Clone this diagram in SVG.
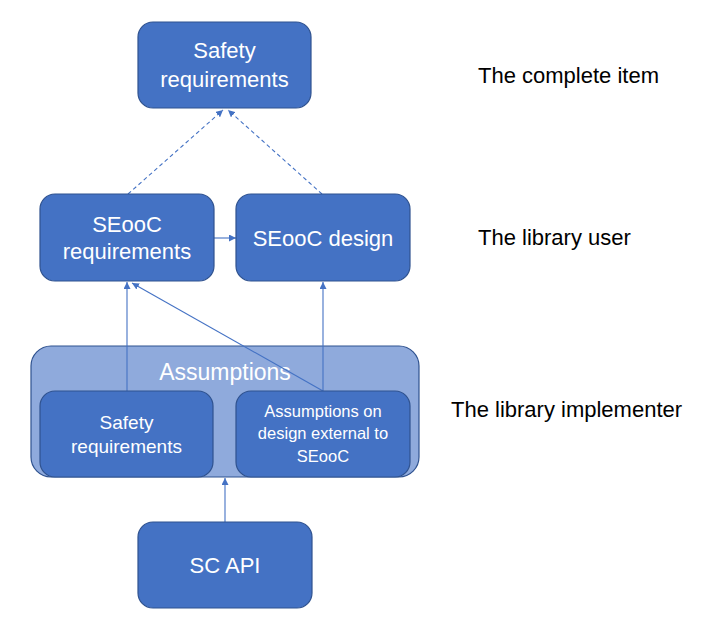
<svg xmlns="http://www.w3.org/2000/svg" width="703" height="622" viewBox="0 0 703 622">
<defs>
<marker id="ah" viewBox="0 0 10 10" refX="10" refY="5" markerWidth="7" markerHeight="7" markerUnits="userSpaceOnUse" orient="auto">
<path d="M0,0 L10,5 L0,10 z" fill="#4472C4"/>
</marker>
<style>
.node{fill:#4472C4;stroke:#2F528F;stroke-width:1.2}
.cont{fill:#8FAADC;stroke:#2F528F;stroke-width:1.2}
.nt{font-family:"Liberation Sans",Arial,sans-serif;fill:#fff;text-anchor:middle}
.lbl{font-family:"Liberation Sans",Arial,sans-serif;fill:#000;font-size:22px}
.ln{stroke:#4472C4;stroke-width:1.1;fill:none;marker-end:url(#ah)}
.dash{stroke-dasharray:4 3}
</style>
</defs>
<rect width="703" height="622" fill="#fff"/>
<g id="assumptions">
<rect class="cont" x="31" y="346" width="388" height="131" rx="20"/>
<text class="nt" x="225" y="380" font-size="23">Assumptions</text>
</g>
<g id="connectors">
<line class="ln dash" x1="128" y1="194" x2="223" y2="110"/>
<line class="ln dash" x1="322" y1="194" x2="228" y2="110"/>
<line class="ln" x1="214" y1="238" x2="236" y2="238"/>
<line class="ln" x1="127" y1="391" x2="127" y2="282"/>
<line class="ln" x1="323" y1="391" x2="323" y2="282"/>
<line class="ln" x1="323" y1="391" x2="132" y2="283"/>
<line class="ln" x1="225" y1="522" x2="225" y2="478"/>
</g>
<g id="safety-req-top">
<rect class="node" x="138" y="22" width="173" height="86" rx="15"/>
<text class="nt" font-size="22" x="224.5" y="58">Safety</text>
<text class="nt" font-size="22" x="224.5" y="87">requirements</text>
</g>
<g id="seooc-req">
<rect class="node" x="40" y="194" width="174" height="87" rx="15"/>
<text class="nt" font-size="22" x="127" y="232">SEooC</text>
<text class="nt" font-size="22" x="127" y="259">requirements</text>
</g>
<g id="seooc-design">
<rect class="node" x="236" y="194" width="174" height="87" rx="15"/>
<text class="nt" font-size="22" x="323" y="246">SEooC design</text>
</g>
<g id="safety-req-inner">
<rect class="node" x="40" y="391" width="173" height="86" rx="15"/>
<text class="nt" font-size="19" x="126.5" y="429">Safety</text>
<text class="nt" font-size="19" x="126.5" y="453">requirements</text>
</g>
<g id="assumptions-design">
<rect class="node" x="236" y="391" width="174" height="86" rx="15"/>
<text class="nt" font-size="16.5" x="323" y="417">Assumptions on</text>
<text class="nt" font-size="16.5" x="323" y="439">design external to</text>
<text class="nt" font-size="16.5" x="323" y="462">SEooC</text>
</g>
<g id="sc-api">
<rect class="node" x="138" y="522" width="174" height="86" rx="15"/>
<text class="nt" font-size="22" x="225" y="573">SC API</text>
</g>
<g id="labels">
<text class="lbl" x="478" y="83">The complete item</text>
<text class="lbl" x="478" y="245">The library user</text>
<text class="lbl" x="451" y="417">The library implementer</text>
</g>
</svg>
